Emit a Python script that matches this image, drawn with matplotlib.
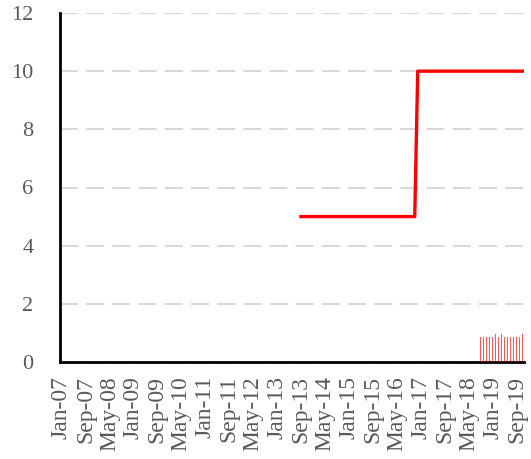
import matplotlib
matplotlib.use("Agg")
import matplotlib.pyplot as plt
import pandas as pd
import numpy as np

# Monthly categories Jan-2007 .. Nov-2019
months = pd.date_range("2007-01-01", "2019-11-01", freq="MS")
month_labels = [d.strftime("%b-%y") for d in months]

# Step line series (Sep-13 .. Nov-19)
line_start = "2013-09"
line_values = [5] * 39 + [10] * 36

# Small column series (Sep-18 .. Nov-19)
bar_start = "2018-09"
bar_values = [0.86, 0.86, 0.86, 0.86, 0.86, 0.95, 0.86, 0.95,
              0.86, 0.86, 0.86, 0.86, 0.86, 0.86, 0.95]

plt.rcParams["font.family"] = ["Liberation Serif", "DejaVu Serif"]

fig = plt.figure(figsize=(5.31, 4.59), dpi=100)
ax = fig.add_axes([60/531, 1-362/459, 464/531, 349/459])

idx = {m.strftime("%Y-%m"): i for i, m in enumerate(months)}
ls = idx[line_start]
lx = np.arange(ls, ls + len(line_values))
bs = idx[bar_start]
bx = np.arange(bs, bs + len(bar_values))

ax.bar(bx, bar_values, width=0.6, color="#ff0000", alpha=0.65, zorder=3)
ax.plot(lx, line_values, color="#ff0000", lw=2.4, zorder=4)

ax.set_xlim(-0.5, len(months) - 0.5)
ax.set_ylim(0, 12)
ax.set_yticks(range(0, 13, 2))
ax.set_yticklabels([str(v) for v in range(0, 13, 2)])
tick_pos = list(range(0, len(months), 8))
ax.set_xticks(tick_pos)
ax.set_xticklabels([month_labels[i] for i in tick_pos], rotation=90)

ax.yaxis.grid(True, color="#d4d4d4", linestyle=(0, (10, 4.5)), lw=1.3)
ax.set_axisbelow(True)
for s in ["top", "right"]:
    ax.spines[s].set_visible(False)
for s in ["left", "bottom"]:
    ax.spines[s].set_color("black")
    ax.spines[s].set_linewidth(2)
ax.tick_params(axis="both", length=0, colors="#595959")
ax.tick_params(axis="y", pad=19, labelsize=16)
ax.tick_params(axis="x", pad=10, labelsize=17)

fig.savefig("out.png", dpi=100)
